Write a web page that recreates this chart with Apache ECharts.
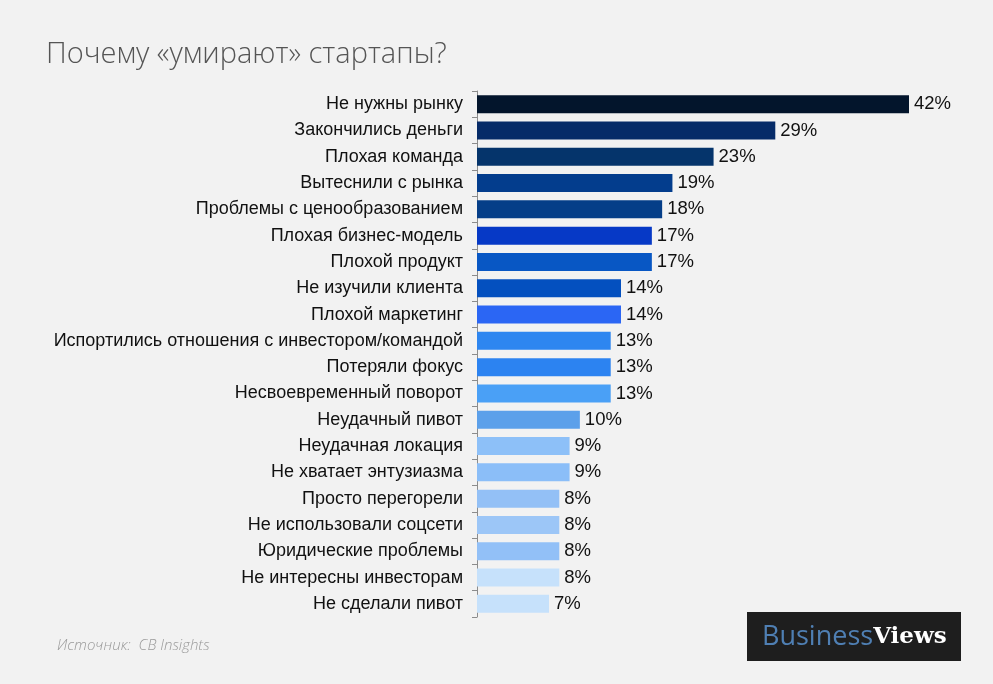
<!DOCTYPE html>
<html>
<head>
<meta charset="utf-8">
<script src="https://cdn.jsdelivr.net/npm/echarts@6/dist/echarts.min.js"></script>
<style>
html,body{margin:0;padding:0;background:#F2F2F2;}
#chart{width:993px;height:684px;}
</style>
</head>
<body>
<div id="chart"></div>
<script>
const categories = [
  "Не нужны рынку",
  "Закончились деньги",
  "Плохая команда",
  "Вытеснили с рынка",
  "Проблемы с ценообразованием",
  "Плохая бизнес-модель",
  "Плохой продукт",
  "Не изучили клиента",
  "Плохой маркетинг",
  "Испортились отношения с инвестором/командой",
  "Потеряли фокус",
  "Несвоевременный поворот",
  "Неудачный пивот",
  "Неудачная локация",
  "Не хватает энтузиазма",
  "Просто перегорели",
  "Не использовали соцсети",
  "Юридические проблемы",
  "Не интересны инвесторам",
  "Не сделали пивот"
];
const values = [42, 29, 23, 19, 18, 17, 17, 14, 14, 13, 13, 13, 10, 9, 9, 8, 8, 8, 8, 7];
const barColors = [
  "#03152C", "#062B68", "#05346B", "#033D8D", "#053E88",
  "#0639C6", "#0857C4", "#0450BF", "#2B66F4", "#2E86F0",
  "#2C83F1", "#4AA0F6", "#5CA0EA", "#8DC0F8", "#8BBEF8",
  "#93C0F6", "#9CC6F7", "#92C0F7", "#C6E1FB", "#C6E1FB"
];

const chart = echarts.init(document.getElementById('chart'));
chart.setOption({
  backgroundColor: '#F2F2F2',
  animation: false,
  title: {
    text: 'Почему «умирают» стартапы?',
    left: 41, top: 35,
    textStyle: { fontFamily: 'Open Sans, Noto Sans, sans-serif', fontWeight: 300, fontSize: 29, color: '#555555' }
  },
  grid: { left: 477, right: 84, top: 91, bottom: 67 },
  xAxis: {
    type: 'value', min: 0, max: 42, show: false
  },
  yAxis: {
    type: 'category', data: categories, inverse: true,
    axisLine: { show: true, lineStyle: { color: '#8C8C8C', width: 1 } },
    axisTick: { show: true, length: 5, lineStyle: { color: '#8C8C8C' } },
    axisLabel: { fontFamily: 'Liberation Sans, Arial, sans-serif', fontSize: 18, color: '#111111', margin: 14 }
  },
  series: [{
    type: 'bar',
    data: values.map((v, i) => ({ value: v, itemStyle: { color: barColors[i] } })),
    barWidth: 18,
    label: {
      show: true, position: 'right', distance: 5,
      formatter: '{c}%',
      fontFamily: 'Liberation Sans, Arial, sans-serif', fontSize: 18.5, color: '#111111'
    }
  }],
  graphic: [
    {
      type: 'text', left: 57, top: 638,
      style: { text: 'Источник:  CB Insights', font: 'italic 300 15px "Open Sans", "Noto Sans", sans-serif', fill: '#9A9A9A' }
    },
    {
      type: 'rect', shape: { x: 747, y: 612, width: 214, height: 49 },
      style: { fill: '#1E1E1E' }
    },
    {
      type: 'text', x: 762, y: 637,
      style: {
        text: '{a|Business}{b|Views}',
        verticalAlign: 'middle',
        rich: {
          a: { fontFamily: 'Open Sans, Noto Sans, sans-serif', fontSize: 27, fill: '#4F7FB3' },
          b: { fontFamily: 'DejaVu Serif, serif', fontWeight: 'bold', fontSize: 23, fill: '#FFFFFF' }
        }
      }
    }
  ]
});
</script>
</body>
</html>
